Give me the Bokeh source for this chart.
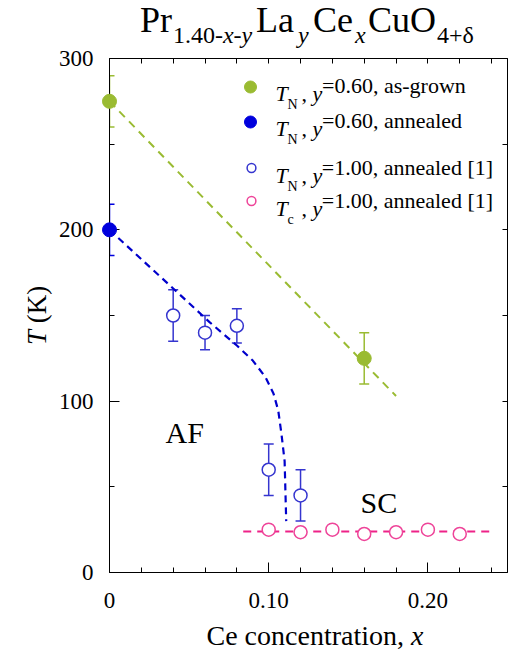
from bokeh.plotting import figure
from bokeh.models import (Range1d, FixedTicker, Label, Legend, LegendItem,
                          Whisker, TeeHead, ColumnDataSource, LinearAxis, Div)
from bokeh.layouts import column, row
from bokeh.embed import file_html
from bokeh.resources import INLINE

# ---------------- data ----------------
# T_N, y=0.60, as-grown
ag_x = [0.0, 0.16]
ag_T = [275, 125]
ag_err = [15, 15]
# T_N, y=0.60, annealed
an_x = [0.0]
an_T = [200]
an_err = [15]
# T_N, y=1.00, annealed [1]
ref_x = [0.04, 0.06, 0.08, 0.10, 0.12]
ref_T = [150, 140, 144, 60, 45]
ref_err = [15, 10, 10, 15, 15]
# T_c, y=1.00, annealed [1]
tc_x = [0.10, 0.12, 0.14, 0.16, 0.18, 0.20, 0.22]
tc_T = [25, 23.5, 25, 22.5, 23.5, 25, 22.5]
# guide-to-the-eye dashed lines
green_line_x = [0.0, 0.18]
green_line_T = [275, 103]
blue_line_x = [0.0, 0.021, 0.038, 0.063, 0.080, 0.090, 0.098, 0.103, 0.106, 0.108, 0.110, 0.111]
blue_line_T = [200, 182, 167.5, 146, 132.5, 123.7, 114, 104.5, 94.5, 81, 65, 30]
pink_line_x = [0.084, 0.24]
pink_line_T = [24, 24]

x_major = [0, 0.1, 0.2]
x_minor = [0.02, 0.04, 0.06, 0.08, 0.10, 0.12, 0.14, 0.16, 0.18, 0.20, 0.22, 0.24]
x_labels = {0: "0", 0.1: "0.10", 0.2: "0.20"}
y_major = [0, 100, 200, 300]
y_minor = [50, 150, 250]
y_all = [50, 100, 150, 200, 250]

legend_rest = ["=0.60, as-grown", "=0.60, annealed",
               "=1.00, annealed [1]", "=1.00, annealed [1]"]
legend_sub = ["N", "N", "N", "c"]

# ---------------- styles ----------------
FONT = "Liberation Serif"
GREEN = "#9ABB32"
BLUE = "#0000DD"
BLUE_LINE = "#0000CC"
BLUE_OPEN = "#3535CF"
PINK_LINE = "#EE2288"
PINK_OPEN = "#EE4499"

TITLE_H = 44
YLAB_W = 50
FRAME_LEFT = 109    # page px
FRAME_TOP = 58
FRAME_BOTTOM = 572
FIG_BOTTOM_BORDER = 50

p = figure(frame_width=398, frame_height=FRAME_BOTTOM - FRAME_TOP,
           x_range=Range1d(0, 0.25), y_range=Range1d(0, 300),
           output_backend="svg", toolbar_location=None,
           min_border_left=FRAME_LEFT - YLAB_W, min_border_right=5,
           min_border_top=FRAME_TOP - TITLE_H, min_border_bottom=FIG_BOTTOM_BORDER,
           margin=0)
p.grid.visible = False
p.outline_line_color = "black"
p.outline_line_width = 1
p.background_fill_color = "white"
p.border_fill_color = "white"
p.border_fill_alpha = 0


def style_axis(ax):
    ax.axis_line_color = "black"
    ax.major_tick_line_color = "black"
    ax.minor_tick_line_color = "black"
    ax.major_tick_in = 10
    ax.major_tick_out = 0
    ax.minor_tick_in = 5
    ax.minor_tick_out = 0
    ax.major_label_text_font = FONT
    ax.major_label_text_font_size = "23px"
    ax.major_label_text_color = "black"


p.xaxis.ticker = FixedTicker(ticks=x_major, minor_ticks=x_minor)
p.yaxis.ticker = FixedTicker(ticks=y_major, minor_ticks=y_minor)
p.xaxis.major_label_overrides = x_labels
style_axis(p.xaxis[0])
style_axis(p.yaxis[0])
p.xaxis.major_label_standoff = 20
p.yaxis.major_label_standoff = 16

# top / right frame axes: tick marks only
top_ax = LinearAxis(ticker=FixedTicker(ticks=[], minor_ticks=x_minor))
right_ax = LinearAxis(ticker=FixedTicker(ticks=[], minor_ticks=y_all))
for ax in (top_ax, right_ax):
    style_axis(ax)
    ax.major_label_standoff = 0
p.add_layout(top_ax, "above")
p.add_layout(right_ax, "right")

# ---------------- guide lines ----------------
p.line(green_line_x, green_line_T, line_color=GREEN, line_width=2, line_dash="8 6")
p.line(blue_line_x, blue_line_T, line_color=BLUE_LINE, line_width=2.2, line_dash="7 5")
p.line(pink_line_x, pink_line_T, line_color=PINK_LINE, line_width=2, line_dash="8 6")


# ---------------- error bars ----------------
def add_err(xs, ys, errs, color):
    src = ColumnDataSource(dict(x=xs, lo=[y - e for y, e in zip(ys, errs)],
                                hi=[y + e for y, e in zip(ys, errs)]))
    w = Whisker(source=src, base="x", lower="lo", upper="hi", dimension="height",
                line_color=color, line_width=1.5,
                upper_head=TeeHead(size=10, line_color=color, line_width=1.5),
                lower_head=TeeHead(size=10, line_color=color, line_width=1.5))
    p.add_layout(w)


add_err(ag_x, ag_T, ag_err, GREEN)
add_err(an_x, an_T, an_err, BLUE)
add_err(ref_x, ref_T, ref_err, BLUE_OPEN)

# ---------------- points ----------------
r_tc = p.scatter(tc_x, tc_T, size=13, marker="circle", fill_color="white",
                 line_color=PINK_OPEN, line_width=1.5)
r_ref = p.scatter(ref_x, ref_T, size=13, marker="circle", fill_color="white",
                  line_color=BLUE_OPEN, line_width=1.5)
r_ag = p.scatter(ag_x, ag_T, size=14, marker="circle", fill_color=GREEN,
                 line_color=GREEN, level="overlay")
r_an = p.scatter(an_x, an_T, size=14, marker="circle", fill_color=BLUE,
                 line_color=BLUE, level="overlay")

# ---------------- legend (two groups, plain part of each label) ----------------
LEG_FS = 22
common = dict(spacing=0, padding=0, margin=0, label_text_font=FONT,
              label_text_font_size=f"{LEG_FS}px", label_text_color="black",
              border_line_alpha=0, background_fill_alpha=0)
leg_a = Legend(items=[LegendItem(label=legend_rest[0], renderers=[r_ag]),
                      LegendItem(label=legend_rest[1], renderers=[r_an])],
               location=(126, 433.5), glyph_width=30, glyph_height=35,
               label_standoff=57, **common)
leg_b = Legend(items=[LegendItem(label=legend_rest[2], renderers=[r_ref]),
                      LegendItem(label=legend_rest[3], renderers=[r_tc])],
               location=(130.8, 355), glyph_width=22, glyph_height=33,
               label_standoff=60, **common)
p.add_layout(leg_a)
p.add_layout(leg_b)

# ---------------- in-frame texts ----------------
REG = {' ': .25, ',': .25, '.': .25, '-': .333, '=': .564, '+': .564, '(': .333,
       ')': .333, '[': .333, ']': .333, 'A': .722, 'C': .667, 'F': .556, 'K': .722,
       'L': .611, 'N': .722, 'O': .722, 'P': .556, 'S': .556, 'T': .611, 'a': .444,
       'c': .444, 'd': .5, 'e': .444, 'g': .5, 'i': .278, 'l': .278, 'n': .5,
       'o': .5, 'r': .333, 's': .389, 't': .278, 'u': .5, 'w': .722, 'x': .5,
       'y': .5, 'δ': .5}
ITA = {'T': .556, 'x': .444, 'y': .444, 'N': .667, 'c': .444}


def text_w(s, size, italic=False):
    tab = ITA if italic else REG
    return sum(tab.get(ch, .5) for ch in s) * size


def put(text, x, y, size, italic=False):
    p.add_layout(Label(x=x - FRAME_LEFT, y=FRAME_BOTTOM - y,
                       x_units="screen", y_units="screen", text=text,
                       text_font=FONT, text_font_size=f"{size}px",
                       text_font_style="italic" if italic else "normal",
                       text_baseline="alphabetic", text_align="left",
                       text_color="black"))


row_centers = [86, 121, 167.5, 200.5]
for c, sub in zip(row_centers, legend_sub):
    base = c + 0.3375 * LEG_FS
    put("T", 275, base, LEG_FS, True)
    put(sub, 287, base + 11, 14)
    put(", ", 301, base, LEG_FS)
    put("y", 301 + text_w(", ", LEG_FS), base, LEG_FS, True)

put("AF", 165, 432, 30)
put("SC", 360, 502, 30)

# ---------------- texts outside the frame (HTML) ----------------
ASC = 0.8375  # baseline position inside a line box of height = font size


def span(text, x, base, size, italic=False, extra=""):
    st = "italic" if italic else "normal"
    return (f'<span style="position:absolute;left:{x:.1f}px;top:{base - ASC * size:.1f}px;'
            f'font-size:{size}px;line-height:{size}px;font-style:{st};white-space:nowrap;{extra}">'
            f'{text}</span>')


def box(inner, w, h):
    return (f'<div style="position:relative;width:{w}px;height:{h}px;overflow:visible;'
            f'font-family:\'{FONT}\',serif;color:#000;">{inner}</div>')


TOTAL_W = FRAME_LEFT + 398 + 5
# title: Pr_{1.40-x-y} La_y Ce_x CuO_{4+δ}
t = []
t.append(span("Pr", 140, 32, 36))
xx = 173
for s, it in [("1.40-", False), ("x", True), ("-", False), ("y", True)]:
    t.append(span(s, xx, 43, 24, it))
    xx += text_w(s, 24, it)
t.append(span("La", 256, 32, 36))
t.append(span("y", 298, 43, 24, True))
t.append(span("Ce", 313, 32, 36))
t.append(span("x", 355, 43, 24, True))
t.append(span("CuO", 368, 32, 36))
t.append(span("4+δ", 437, 43, 24))
title_div = Div(text=box("".join(t), TOTAL_W, TITLE_H), width=TOTAL_W,
                height=TITLE_H, margin=0, styles={"overflow": "visible", "z-index": "2"})

# y axis title, rotated
fig_h = (FRAME_TOP - TITLE_H) + (FRAME_BOTTOM - FRAME_TOP) + FIG_BOTTOM_BORDER
YL_FS = 27
yl_w = text_w("T", YL_FS, True) + text_w(" (K)", YL_FS)
yl_start = (FRAME_TOP + FRAME_BOTTOM) / 2 + yl_w / 2 - TITLE_H
yl_left = 47 - ASC * YL_FS
ylab = (f'<span style="position:absolute;left:{yl_left:.1f}px;top:{yl_start:.1f}px;'
        f'font-size:{YL_FS}px;line-height:{YL_FS}px;white-space:nowrap;'
        f'transform:rotate(-90deg);transform-origin:0 0;"><i>T</i> (K)</span>')
ylab_div = Div(text=box(ylab, YLAB_W, fig_h), width=YLAB_W, height=fig_h, margin=0)

# x axis title
XL_FS = 28
xl_w = text_w("Ce concentration, ", XL_FS) + text_w("x", XL_FS, True)
xl_top = TITLE_H + fig_h
XL_H = 658 - xl_top
xlab = span("Ce concentration, <i>x</i>", (FRAME_LEFT + 507) / 2 + 7 - xl_w / 2,
            645 - xl_top, XL_FS)
xlab_div = Div(text=box(xlab, TOTAL_W, XL_H), width=TOTAL_W, height=XL_H, margin=0)

layout = column(title_div, row(ylab_div, p, spacing=0), xlab_div, spacing=0)
open("out.html", "w").write(file_html(layout, INLINE))
